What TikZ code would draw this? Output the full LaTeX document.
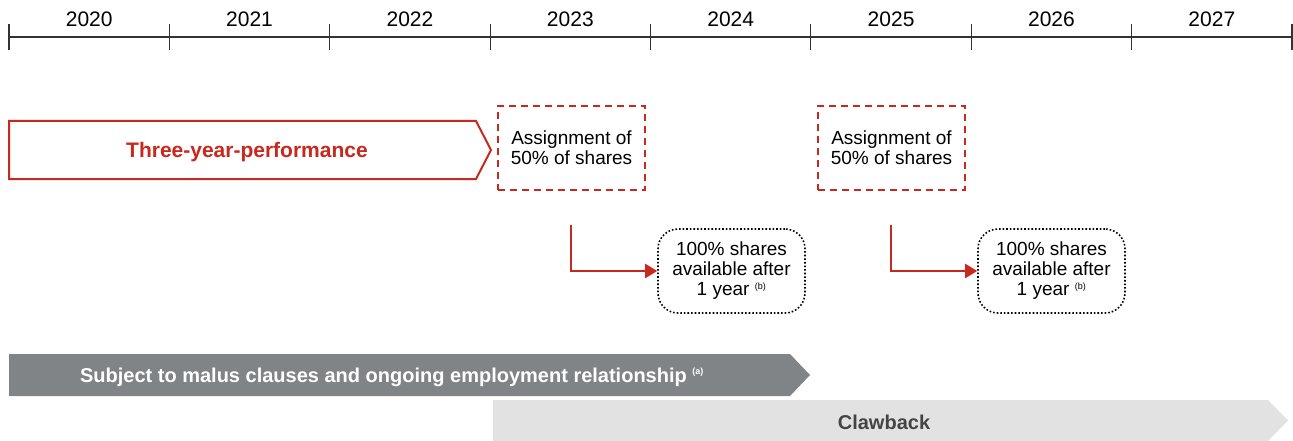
\documentclass[tikz,border=0pt]{standalone}
\usepackage{fontspec}
\setmainfont{Liberation Sans}
\usetikzlibrary{arrows.meta}
\definecolor{brandred}{HTML}{C8281E}
\definecolor{malusgray}{HTML}{808486}
\definecolor{clawgray}{HTML}{E2E2E2}
\definecolor{clawtext}{HTML}{444444}
\definecolor{axisgray}{HTML}{333333}
\tikzset{
  yearlabel/.style={font=\fontsize{21}{24}\selectfont, text=black},
  assignbox/.style={draw=brandred, line width=2.4pt, dash pattern=on 7pt off 5pt,
    minimum width=147pt, minimum height=84pt, align=center,
    font=\fontsize{19}{20}\selectfont},
  availbox/.style={draw=black, line width=1.6pt, dotted, rounded corners=20pt,
    minimum width=147pt, minimum height=84pt, align=center,
    font=\fontsize{19}{20}\selectfont},
  redflow/.style={draw=brandred, line width=2pt, -{Triangle[length=12pt,width=14pt]}},
  bandtext/.style={font=\bfseries\fontsize{20}{22}\selectfont},
}
\newcommand{\notemark}[1]{\textsuperscript{\fontsize{9}{9}\selectfont(#1)}}
\begin{document}
\begin{tikzpicture}[x=1pt,y=-1pt]
\useasboundingbox (0,0) rectangle (1293,441);

% timeline axis with yearly ticks
\draw[axisgray, line width=1.4pt] (9,37) -- (1292,37);
\foreach \i in {0,...,8}{
  \draw[axisgray, line width=1.2pt] ({9+160.375*\i},24) -- ({9+160.375*\i},50);
}
\foreach \y [count=\i from 0] in {2020,...,2027}{
  \node[yearlabel] (y\y) at ({89.2+160.375*\i},19) {\y};
}

% performance period
\draw[brandred, line width=2pt, fill=white]
  (9,121) -- (476,121) -- (491,150) -- (476,179) -- (9,179) -- cycle;
\node[text=brandred, font=\bfseries\fontsize{21}{22}\selectfont] (perf) at (247,152) {Three-year-performance};

% share assignments
\node[assignbox] (assign1) at (571.5,148) {Assignment of\\50\% of shares};
\node[assignbox] (assign2) at (891.5,148) {Assignment of\\50\% of shares};

% availability after holding year
\node[availbox] (avail1) at (731.5,271) {100\% shares\\available after\\1 year \notemark{b}};
\node[availbox] (avail2) at (1051.5,271) {100\% shares\\available after\\1 year \notemark{b}};

\coordinate (s1) at (571,225);
\coordinate (s2) at (891,225);
\draw[redflow] (s1) |- (avail1.west);
\draw[redflow] (s2) |- (avail2.west);

% malus and clawback periods
\fill[malusgray] (9,354) -- (790,354) -- (810,375) -- (790,396) -- (9,396) -- cycle;
\node[text=white, bandtext] (malus) at (392,377)
  {Subject to malus clauses and ongoing employment relationship \notemark{a}};
\fill[clawgray] (493,400) -- (1268,400) -- (1288,420.5) -- (1268,441) -- (493,441) -- cycle;
\node[text=clawtext, bandtext] (claw) at (884,422) {Clawback};
\end{tikzpicture}
\end{document}
